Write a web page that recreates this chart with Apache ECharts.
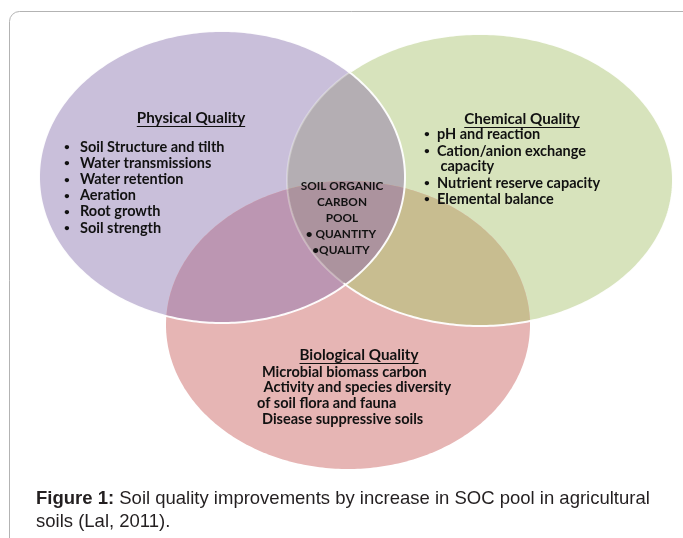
<!DOCTYPE html>
<html>
<head>
<meta charset="utf-8">
<script src="https://cdn.jsdelivr.net/npm/echarts@6/dist/echarts.min.js"></script>
<style>
html, body { margin: 0; padding: 0; background: #fff; }
#main { width: 683px; height: 538px; }
</style>
</head>
<body>
<div id="main"></div>
<script>
// venn sets, in diagram units (same scale on both axes)
var setNames = ['Physical Quality', 'Chemical Quality', 'Biological Quality'];
var centerX = [222, 480, 348];
var centerY = [177, 180, 325];
var radiusX = [183, 193, 182];
var radiusY = [146, 146, 144];

var physicalItems = ['Soil Structure and tilth', 'Water transmissions', 'Water retention', 'Aeration', 'Root growth', 'Soil strength'];
var chemicalItems = ['pH and reaction', 'Cation/anion exchange', ' capacity', 'Nutrient reserve capacity', 'Elemental balance'];
var socLines = ['SOIL ORGANIC', 'CARBON', 'POOL'];
var socItems = ['QUANTITY', 'QUALITY'];
var bioItems = ['Microbial biomass carbon', ' Activity and species diversity', 'of soil flora and fauna', 'Disease suppressive soils'];
var captionBold = 'Figure 1:';
var captionText = [' Soil quality improvements by increase in SOC pool in agricultural', 'soils (Lal, 2011).'];

var fillColors = ['#c9bfda', '#d7e3bc', '#e6b5b4'];
var overlapColors = {
	'0-1': '#b4aeb3',
	'0-2': '#bc96b2',
	'1-2': '#c8bd90',
	'0-1-2': '#ac939e'
};

var FONT = 'Lato, "Open Sans", sans-serif';
var measureCtx = document.createElement('canvas').getContext('2d');
function textWidth(s, font) {
	measureCtx.font = font;
	return measureCtx.measureText(s).width;
}

function ellipsePx(api, k) {
	var c = api.coord([centerX[k], centerY[k]]);
	var s = api.size([radiusX[k], radiusY[k]]);
	return {cx: c[0], cy: c[1], rx: Math.abs(s[0]), ry: Math.abs(s[1])};
}

function outline(e) {
	var pts = [];
	for (var i = 0; i < 360; i++) {
		var t = i / 360 * Math.PI * 2;
		pts.push([e.cx + e.rx * Math.cos(t), e.cy + e.ry * Math.sin(t)]);
	}
	return pts;
}

function inside(p, e) {
	var dx = (p[0] - e.cx) / e.rx, dy = (p[1] - e.cy) / e.ry;
	return dx * dx + dy * dy <= 1.0001;
}

// intersection of ellipses (convex): outline points of each inside all the others, sorted by angle
function intersect(list) {
	var pts = [];
	list.forEach(function(e, a) {
		outline(e).forEach(function(p) {
			var ok = true;
			for (var b = 0; b < list.length; b++) {
				if (b !== a && !inside(p, list[b])) { ok = false; break; }
			}
			if (ok) pts.push(p);
		});
	});
	if (pts.length < 3) return [];
	var mx = 0, my = 0;
	pts.forEach(function(p) { mx += p[0]; my += p[1]; });
	mx /= pts.length; my /= pts.length;
	pts.sort(function(p, q) {
		return Math.atan2(p[1] - my, p[0] - mx) - Math.atan2(q[1] - my, q[0] - mx);
	});
	return pts;
}

function splitRuns(pts, flags) {
	var n = pts.length, start = 0;
	for (var k = 0; k < n; k++) {
		if (flags[k] !== flags[(k + n - 1) % n]) { start = k; break; }
	}
	var runs = [], cur = null;
	for (var m = 0; m <= n; m++) {
		var idx = (start + m) % n;
		if (!cur || cur.flag !== flags[idx]) {
			if (cur) { cur.points.push(pts[idx]); runs.push(cur); }
			cur = {flag: flags[idx], points: [pts[idx]]};
		} else {
			cur.points.push(pts[idx]);
		}
	}
	if (cur && cur.points.length > 1) runs.push(cur);
	return runs;
}

function renderFill(params, api) {
	var i = params.dataIndex;
	var ei = ellipsePx(api, i);
	var children = [{type: 'polygon', shape: {points: outline(ei)}, style: {fill: fillColors[i]}}];
	for (var j = 0; j < i; j++) {
		var pts = intersect([ellipsePx(api, j), ei]);
		if (pts.length) {
			children.push({type: 'polygon', shape: {points: pts}, style: {fill: overlapColors[j + '-' + i]}});
		}
	}
	if (i === 2) {
		var tri = intersect([ellipsePx(api, 0), ellipsePx(api, 1), ei]);
		if (tri.length) {
			children.push({type: 'polygon', shape: {points: tri}, style: {fill: overlapColors['0-1-2']}});
		}
	}
	return {type: 'group', children: children};
}

function renderStroke(params, api) {
	var i = params.dataIndex;
	var pts = outline(ellipsePx(api, i));
	var children = [];
	if (i === 0) {
		pts.push(pts[0]);
		children.push({type: 'polyline', shape: {points: pts}, style: {stroke: '#fff', lineWidth: 2, fill: null, opacity: 0.95}});
	} else if (i === 1) {
		var e0 = ellipsePx(api, 0);
		var flags = pts.map(function(p) { return inside(p, e0); });
		splitRuns(pts, flags).forEach(function(run) {
			children.push({type: 'polyline', shape: {points: run.points},
				style: {stroke: '#fff', lineWidth: 2, fill: null, opacity: run.flag ? 0.3 : 0.95}});
		});
	}
	return {type: 'group', children: children};
}

var vennData = centerX.map(function(x, k) {
	return {name: setNames[k], value: [x, centerY[k], radiusX[k], radiusY[k]]};
});

// ---- texts ----
var graphics = [];
graphics.push({
	type: 'rect', z: 100, silent: true,
	shape: {x: 9.5, y: 11.5, width: 720, height: 600, r: 10},
	style: {fill: null, stroke: '#b3b3b3', lineWidth: 1}
});

function addText(s, x, y, font, align) {
	graphics.push({
		type: 'text', z: 100, silent: true, x: x, y: y,
		style: {text: s, font: font, fill: '#111', align: align || 'left', verticalAlign: 'middle'}
	});
}
function addHeading(s, cx, y) {
	var font = 'bold 15.2px ' + FONT;
	var w = textWidth(s, font);
	addText(s, cx, y, font, 'center');
	graphics.push({
		type: 'line', z: 100, silent: true,
		shape: {x1: cx - w / 2, y1: y + 8.5, x2: cx + w / 2, y2: y + 8.5},
		style: {stroke: '#111', lineWidth: 1}
	});
}

var itemFont = 'bold 14.5px ' + FONT;
var bulletFont = 'bold 10px ' + FONT;
addHeading(setNames[0], 191, 118);
physicalItems.forEach(function(s, k) {
	var y = 147 + k * 16.2;
	addText('\u2022', 64, y, bulletFont);
	addText(s, 80, y, itemFont);
});

addHeading(setNames[1], 522, 119);
var chemY = [134, 151, 166, 183, 199];
chemicalItems.forEach(function(s, k) {
	if (s.charAt(0) !== ' ') addText('\u2022', 424, chemY[k], bulletFont);
	addText(s, 437, chemY[k], itemFont);
});

var socFont = 'bold 11.8px ' + FONT;
socLines.forEach(function(s, k) {
	addText(s, 342, 186 + k * 16, socFont, 'center');
});
addText('\u2022 ' + socItems[0], 341, 234, socFont, 'center');
addText('\u2022' + socItems[1], 341, 250, socFont, 'center');

addHeading(setNames[2], 359, 355);
var bioX = [262, 260, 257, 262];
bioItems.forEach(function(s, k) {
	addText(s, bioX[k], 372 + k * 15.7, itemFont);
});

var capFont = '"Liberation Sans", Arial, sans-serif';
graphics.push({
	type: 'text', z: 100, silent: true, x: 36, y: 499,
	style: {
		text: '{b|' + captionBold + '}{r|' + captionText[0] + '}',
		fill: '#231f20', verticalAlign: 'middle',
		rich: {
			b: {fontWeight: 'bold', fontSize: 18.5, fontFamily: capFont, fill: '#231f20'},
			r: {fontSize: 18.5, fontFamily: capFont, fill: '#231f20'}
		}
	}
});
graphics.push({
	type: 'text', z: 100, silent: true, x: 36, y: 522,
	style: {text: captionText[1], font: '18.5px ' + capFont, fill: '#231f20', verticalAlign: 'middle'}
});

var myChart = echarts.init(document.getElementById('main'));
var option = {
	animation: false,
	backgroundColor: '#fff',
	grid: {left: 0, right: 0, top: 0, bottom: 0},
	xAxis: {type: 'value', min: 0, max: 683, show: false},
	yAxis: {type: 'value', min: 0, max: 538, inverse: true, show: false},
	graphic: graphics,
	series: [
		{
			type: 'custom', name: 'sets', silent: true, z: 2,
			renderItem: renderFill,
			data: vennData
		},
		{
			type: 'custom', name: 'outlines', silent: true, z: 3,
			renderItem: renderStroke,
			data: vennData
		}
	]
};
myChart.setOption(option);
</script>
</body>
</html>
